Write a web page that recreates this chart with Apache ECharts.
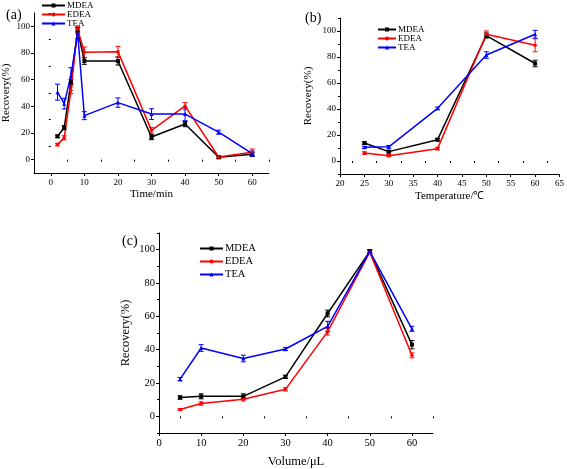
<!DOCTYPE html>
<html><head><meta charset="utf-8">
<script src="https://cdn.jsdelivr.net/npm/echarts@6/dist/echarts.min.js"></script>
<style>html,body{margin:0;padding:0;background:#fff}#c{width:567px;height:469px}</style>
</head><body><div id="c"></div>
<script>
// ---- data ----
const seriesNames = ['MDEA', 'EDEA', 'TEA'];
const aTime = [2, 4, 6, 8, 10, 20, 30, 40, 50, 60];
const aMDEA = [17.5, 24, 58, 97, 74, 74, 17, 26.7, 1.8, 4];
const aEDEA = [11.3, 16.4, 52, 98, 80.5, 81, 22, 40.3, 2, 5.5];
const aTEA = [50.6, 42, 63, 95, 33, 42.8, 34.2, 34.2, 20.6, 4.5];
const aMDEAerr = [1, 1.5, 2, 2, 2.5, 3, 2, 2, 1, 1.5];
const aEDEAerr = [1, 1.5, 2.5, 2, 4, 4, 2, 2.5, 1, 2.5];
const aTEAerr = [6, 4, 6, 4, 3, 3.5, 4, 5, 1.5, 2];

const bTemp = [25, 30, 40, 50, 60];
const bMDEA = [13.8, 7.2, 16.4, 96.5, 75];
const bEDEA = [6.1, 4.1, 9.5, 97.5, 89];
const bTEA = [10.5, 10.9, 40.5, 81.5, 97.5];
const bMDEAerr = [1, 1, 1, 2, 2.5];
const bEDEAerr = [1, 0.8, 1, 2.5, 5];
const bTEAerr = [0.8, 1, 1, 2.5, 3];

const cVol = [5, 10, 20, 30, 40, 50, 60];
const cMDEA = [11.3, 12, 12, 23.7, 61.7, 99, 43];
const cEDEA = [4.1, 7.7, 10.2, 16.2, 50.8, 98.5, 36.6];
const cTEA = [22.3, 41, 34.7, 40.4, 54, 99, 52.5];
const cMDEAerr = [1, 1.5, 1.5, 1, 2, 1, 2.5];
const cEDEAerr = [0.5, 1, 1, 1, 2, 1, 1.5];
const cTEAerr = [1, 2, 2, 1, 3, 1, 1.5];

const yTicks = [0, 20, 40, 60, 80, 100];
const aXTicks = [0, 10, 20, 30, 40, 50, 60];
const bXTicks = [20, 25, 30, 35, 40, 45, 50, 55, 60, 65];
const cXTicks = [0, 10, 20, 30, 40, 50, 60];

// ---- build ----
const FONT = '"Liberation Serif", "Times New Roman", serif';
const colors = {MDEA: '#000000', EDEA: '#ff0000', TEA: '#0000ff'};
const symbols = {MDEA: 'rect', EDEA: 'circle', TEA: 'triangle'};
const chart = echarts.init(document.getElementById('c'));

const grids = [
  {left: 33, top: 13, width: 236, height: 160},
  {left: 340, top: 18, width: 220, height: 156},
  {left: 159, top: 233, width: 274, height: 204}
];
const xSpecs = [
  {min: -5, max: 65, ticks: aXTicks, name: 'Time/min', gap: 16, fs: 9},
  {min: 20, max: 65, ticks: bXTicks, name: 'Temperature/\u2103', gap: 17, fs: 9},
  {min: 0, max: 65, ticks: cXTicks, name: 'Volume/\u03bcL', gap: 22, fs: 10.5}
];
const yNameGap = [22, 26, 27];
const xAxes = [], yAxes = [];
grids.forEach((g, i) => {
  const xs = xSpecs[i];
  const fs = xs.fs;
  xAxes.push({
    type: 'value', gridIndex: i, min: xs.min, max: xs.max,
    name: xs.name, nameLocation: 'middle', nameGap: xs.gap,
    nameTextStyle: {fontFamily: FONT, fontSize: fs + 2, color: '#000'},
    axisLine: {show: true, onZero: false, lineStyle: {color: '#000', width: 1}},
    axisTick: {show: true, length: 3, customValues: xs.ticks, lineStyle: {color: '#000'}},
    axisLabel: {customValues: xs.ticks, fontFamily: FONT, fontSize: fs, color: '#000', margin: 5},
    splitLine: {show: false}
  });
  yAxes.push({
    type: 'value', gridIndex: i, min: -10, max: 110,
    name: 'Recovery(%)', nameLocation: 'middle', nameGap: yNameGap[i],
    nameTextStyle: {fontFamily: FONT, fontSize: fs + 2, color: '#000'},
    axisLine: {show: true, onZero: false, lineStyle: {color: '#000', width: 1}},
    axisTick: {show: true, length: 3, customValues: yTicks, lineStyle: {color: '#000'}},
    axisLabel: {customValues: yTicks, fontFamily: FONT, fontSize: fs, color: '#000', margin: 4},
    splitLine: {show: false}
  });
});
// minor tick axes
const minorX = [[-5,5,15,25,35,45,55,65], [22.5,27.5,32.5,37.5,42.5,47.5,52.5,57.5,62.5], [5,15,25,35,45,55,65]];
const minorY = [-10, 10, 30, 50, 70, 90, 110];
grids.forEach((g, i) => {
  const xs = xSpecs[i];
  xAxes.push({
    type: 'value', gridIndex: i, min: xs.min, max: xs.max, position: 'bottom',
    axisLine: {show: false}, axisLabel: {show: false}, splitLine: {show: false},
    axisTick: {show: true, length: 2, customValues: minorX[i], lineStyle: {color: '#000'}}
  });
  yAxes.push({
    type: 'value', gridIndex: i, min: -10, max: 110, position: 'left',
    axisLine: {show: false}, axisLabel: {show: false}, splitLine: {show: false},
    axisTick: {show: true, length: 2, customValues: minorY, lineStyle: {color: '#000'}}
  });
});

const sets = [
  {x: aTime, MDEA: [aMDEA, aMDEAerr], EDEA: [aEDEA, aEDEAerr], TEA: [aTEA, aTEAerr]},
  {x: bTemp, MDEA: [bMDEA, bMDEAerr], EDEA: [bEDEA, bEDEAerr], TEA: [bTEA, bTEAerr]},
  {x: cVol, MDEA: [cMDEA, cMDEAerr], EDEA: [cEDEA, cEDEAerr], TEA: [cTEA, cTEAerr]}
];
const series = [];
function errRender(params, api) {
  const x = api.value(0), y = api.value(1), e = api.value(2);
  const lo = api.coord([x, y - e]);
  const hi = api.coord([x, y + e]);
  const st = {stroke: api.visual('color'), lineWidth: 1};
  return {type: 'group', children: [
    {type: 'line', shape: {x1: lo[0], y1: lo[1], x2: hi[0], y2: hi[1]}, style: st},
    {type: 'line', shape: {x1: lo[0] - 2.5, y1: lo[1], x2: lo[0] + 2.5, y2: lo[1]}, style: st},
    {type: 'line', shape: {x1: hi[0] - 2.5, y1: hi[1], x2: hi[0] + 2.5, y2: hi[1]}, style: st}
  ]};
}
sets.forEach((s, i) => {
  seriesNames.forEach(n => {
    const ys = s[n][0], es = s[n][1];
    series.push({
      type: 'line', name: n, xAxisIndex: i, yAxisIndex: i,
      data: s.x.map((x, k) => [x, ys[k]]),
      symbol: symbols[n], symbolSize: n === 'EDEA' ? 3.5 : 4, showSymbol: true,
      lineStyle: {color: colors[n], width: 1.5},
      itemStyle: {color: colors[n]},
      z: 4, animation: false
    });
    series.push({
      type: 'custom', name: n + ' error', xAxisIndex: i, yAxisIndex: i,
      renderItem: errRender, itemStyle: {color: colors[n]},
      data: s.x.map((x, k) => [x, ys[k], es[k]]), z: 3, silent: true
    });
  });
});

const legendBase = {
  orient: 'vertical', data: seriesNames, itemWidth: 23, itemHeight: 5,
  selectedMode: false
};
const legends = [
  Object.assign({}, legendBase, {left: 36, top: -4, itemGap: 0, textStyle: {fontFamily: FONT, fontSize: 9, color: '#000', padding: [0, 0, 0, -3]}}),
  Object.assign({}, legendBase, {left: 372, top: 20, itemWidth: 18, itemGap: 0, textStyle: {fontFamily: FONT, fontSize: 9, color: '#000', padding: [0, 0, 0, -3]}}),
  Object.assign({}, legendBase, {left: 194, top: 238, itemGap: 2, textStyle: {fontFamily: FONT, fontSize: 10.5, color: '#000', padding: [0, 0, 0, -3]}})
];

chart.setOption({
  animation: false,
  backgroundColor: '#fff',
  title: [
    {text: '(a)', left: 1, top: 3, textStyle: {fontFamily: FONT, fontSize: 14, fontWeight: 'normal', color: '#000'}},
    {text: '(b)', left: 300, top: 6, textStyle: {fontFamily: FONT, fontSize: 14, fontWeight: 'normal', color: '#000'}},
    {text: '(c)', left: 117, top: 229, textStyle: {fontFamily: FONT, fontSize: 14, fontWeight: 'normal', color: '#000'}}
  ],
  legend: legends,
  grid: grids,
  xAxis: xAxes,
  yAxis: yAxes,
  series: series
});
</script></body></html>
